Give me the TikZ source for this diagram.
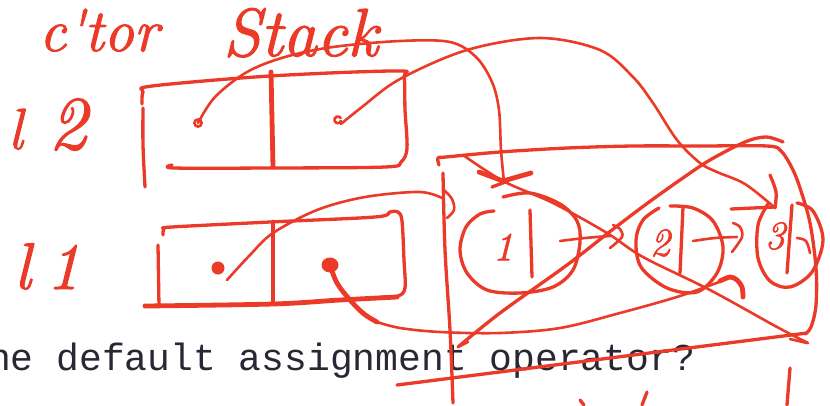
\documentclass[tikz,border=0pt]{standalone}
\usepackage{fontspec}
\newfontfamily\codefont{Liberation Mono}
\newfontfamily\handfont[FakeBold=1.6,ItalicFeatures={FakeBold=1.6}]{Latin Modern Roman}
\definecolor{ink}{RGB}{236,58,40}
\definecolor{typed}{RGB}{40,40,52}
\begin{document}
\begin{tikzpicture}[x=1pt,y=-1pt,
  pen/.style={draw=ink,line width=3.3pt,line cap=round,line join=round},
  fine/.style={pen,line width=2.6pt},
  heavy/.style={pen,line width=4.8pt},
  hand/.style={text=ink,inner sep=0pt,font=\handfont\itshape},
  blob/.style={fill=ink,draw=none},
  smoothpen/.style={smooth,tension=0.55}
]
\useasboundingbox (0,0) rectangle (830,405);
\fill[white] (0,0) rectangle (830,405);

% typed line underneath the ink
\node[anchor=base west,inner sep=0pt,text=typed,
      font=\codefont\fontsize{38}{38}\selectfont] (code) at (-12,370)
      {ne default assignment operator?};

% handwritten labels
\node[hand,anchor=base west,font=\handfont\itshape\fontsize{60}{60}\selectfont] (ctor) at (39,51) {c'tor};
\node[hand,anchor=base west,font=\handfont\itshape\fontsize{68}{68}\selectfont] (stack) at (223,56) {Stack};
\node[hand,anchor=base west,font=\handfont\itshape\fontsize{58}{58}\selectfont] (lab2) at (8,149)
      {l\kern 26pt{\fontsize{76}{76}\selectfont 2}};
\node[hand,anchor=base west,font=\handfont\itshape\fontsize{66}{66}\selectfont] (lab1) at (14,289) {l\kern 16pt 1};

% ---------- l2 : two-cell object ----------
\draw[pen] plot[smoothpen] coordinates {(143,108) (143,145) (145,187)};
\draw[pen] plot[smoothpen] coordinates {(142,104) (143,92) (152,86) (270,76) (396,71) (404,77)
  (405,110) (407,148) (401,162) (385,167) (270,168) (174,168) (172,165)};
\draw[heavy] (271,72) -- (273,167);
\coordinate (p2a) at (198,123);
\coordinate (p2b) at (338,122);
\draw[fine] (p2a) circle (3.6);
\draw[fine] (p2b) ++(3,-1) arc (20:330:3.4);

% ---------- l1 : two-cell object ----------
\draw[pen] plot[smoothpen] coordinates {(163,235) (164,229) (172,227) (270,222) (375,217)
  (390,212) (398,212) (402,221) (404,260) (405,288) (398,296) (382,297)};
\draw[heavy] plot[smoothpen] coordinates {(145,306) (273,304) (340,300) (397,297)};
\draw[pen] (158,245) -- (159,307);
\draw[heavy] (273,222) -- (273,303);
\coordinate (p1a) at (218,268);
\coordinate (p1b) at (330,265);
\fill[blob] (p1a) circle (6.5);
\fill[blob] (p1b) ellipse (8.5 and 7.5);

% ---------- list container ----------
\draw[pen] plot[smoothpen] coordinates {(439,165) (438,158) (446,157) (500,152) (567,148)
  (633,146) (700,146) (767,146) (781,151) (792,168) (800,188) (810,223) (816,268)
  (816,305) (811,327) (805,334)};
\draw[pen] (397,385) -- (807,333);
\draw[pen] plot[smoothpen] coordinates {(443,173) (445,250) (450,330) (453,403)};

% nodes of the list
\draw[pen] plot[smoothpen] coordinates {(503,197) (530,193) (560,204) (577,221) (580,242)
  (573,270) (553,287) (520,293) (487,290) (467,273) (460,250) (466,227) (480,214) (494,211)};
\draw[pen] plot[smoothpen] coordinates {(670,206) (693,208) (713,221) (723,247) (717,273)
  (697,292) (667,288) (641,267) (636,240) (643,220) (659,208)};
\draw[pen] plot[smoothpen] coordinates {(797,203) (813,211) (823,240) (812,272) (790,287)
  (770,281) (758,258) (758,225) (768,204)};
\node[hand,font=\handfont\itshape\fontsize{40}{40}\selectfont] (n1) at (503,247) {1};
\node[hand,font=\handfont\itshape\fontsize{40}{40}\selectfont] (n2) at (660,243) {2};
\node[hand,font=\handfont\itshape\fontsize{40}{40}\selectfont] (n3) at (775,236) {3};
\draw[pen] (530,210) -- (532,277);
\draw[pen] (683,207) -- (680,273);
\draw[pen] (792,205) -- (787,273);
\draw[fine] plot[smoothpen] coordinates {(797,238) (806,241) (810,253)};

% next links between list nodes
\draw[fine] plot[smoothpen] coordinates {(560,241) (585,238) (610,236)};
\draw[fine] plot[smoothpen] coordinates {(613,225) (620,229) (622,237) (610,248)};
\draw[fine] plot[smoothpen] coordinates {(693,241) (715,238) (737,237)};
\draw[fine] plot[smoothpen] coordinates {(733,223) (740,227) (742,237) (732,252)};

% ---------- pointers out of l2 ----------
\draw[fine] plot[smoothpen] coordinates {(p2a) (215,97) (247,72) (285,57) (333,47) (400,41)
  (450,42) (476,57) (492,82) (499,110) (501,150) (504,182)};
\draw[heavy] (479,172) -- (503,181) -- (531,173);
\draw[pen] (492,187) -- (508,181);

\draw[fine] plot[smoothpen] coordinates {(341,124) (362,107) (400,79) (467,50) (540,38)
  (600,50) (633,77) (653,103) (677,140) (700,163) (717,172) (745,184) (774,207)};
\draw[pen] (731,209) -- (775,207);
\draw[pen] plot[smoothpen] coordinates {(770,175) (776,192) (775,208)};

% ---------- pointers out of l1 ----------
\draw[fine] plot[smoothpen] coordinates {(227,280) (250,255) (273,233) (317,210) (365,197)
  (420,192) (444,199)};
\draw[fine] plot[smoothpen] coordinates {(444,190) (452,199) (454,210) (447,218)};

\draw[heavy] plot[smoothpen] coordinates {(p1b) (337,283) (350,300) (364,314) (377,322)};
\draw[fine] plot[smoothpen] coordinates {(377,322) (400,328) (440,332) (500,333) (560,328)
  (620,313) (680,296) (727,279)};
\draw[heavy] plot[smoothpen] coordinates {(720,281) (730,277) (737,280) (742,287) (743,297)};

% ---------- crossing-out strokes ----------
\draw[fine] plot[smoothpen] coordinates {(463,155) (503,181) (553,203) (607,233) (643,257)
  (710,290) (777,327) (808,343)};
\draw[fine] (790,339) -- (807,343);
\draw[pen] plot[smoothpen] coordinates {(458,347) (500,313) (567,265) (612,230) (645,205)
  (680,180) (710,160) (745,142) (766,137) (783,142)};
\draw[fine] (458,347) -- (468,342);

% start of the next handwritten line
\draw[pen] (790,368) -- (787,405);
\draw[pen] (580,400) -- (584,405);
\draw[pen] (647,392) -- (642,405);
\end{tikzpicture}
\end{document}
